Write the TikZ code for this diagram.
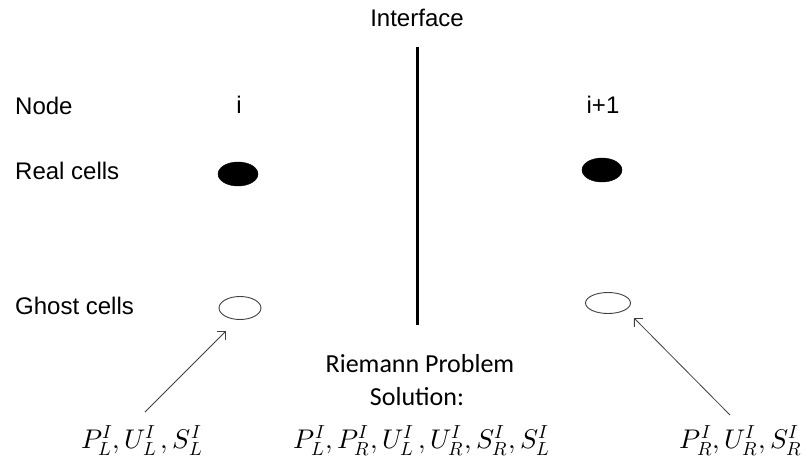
\documentclass[tikz,border=0pt]{standalone}
\usepackage{fontspec}
\usepackage{unicode-math}
\setmainfont{Liberation Sans}
\setmathfont{Latin Modern Math}
\newfontfamily\calibrifont{Carlito}
\usetikzlibrary{arrows.meta,shapes.geometric}

\begin{document}
\begin{tikzpicture}[x=1pt,y=-1pt,
  lbl/.style={inner sep=0pt,font=\fontsize{24}{28}\selectfont},
  rowlbl/.style={lbl,anchor=west},
  realcell/.style={ellipse,fill=black,draw=black,minimum width=40pt,minimum height=24pt,inner sep=0pt},
  ghostcell/.style={ellipse,fill=white,draw=black!75,line width=0.9pt,minimum width=42pt,minimum height=23pt,inner sep=0pt},
  mathlbl/.style={inner sep=0pt,anchor=base,font=\fontsize{27}{32}\selectfont},
  solnlbl/.style={inner sep=0pt,anchor=base,font=\calibrifont\fontsize{26}{30}\selectfont},
  feed/.style={draw=black!75,line width=0.8pt,-{Straight Barb[length=6pt,width=12pt]}}]
\useasboundingbox[fill=white] (0,0) rectangle (804,466);

% interface between the two cells
\node[lbl] (iface) at (417,18) {Interface};
\coordinate (itop) at (417,47);
\coordinate (ibot) at (417,325);
\draw[line width=3pt] (itop) -- (ibot);

% row labels
\node[rowlbl] (nodelbl) at (15,105.5) {Node};
\node[rowlbl] (reallbl) at (15,170.5) {Real cells};
\node[rowlbl] (ghostlbl) at (15,306) {Ghost cells};

% node indices
\node[lbl] (ni) at (239,105) {i};
\node[lbl] (nip) at (603,105) {i+1};

% real and ghost cells
\node[realcell] (rl) at (238,174) {};
\node[realcell] (rr) at (602,170) {};
\node[ghostcell] (gl) at (240,308) {};
\node[ghostcell,minimum width=45pt,minimum height=21pt] (gr) at (608,303) {};

% interface states
\node[mathlbl] (stl) at (142,448) {$P_L^I,U_L^I\,,S_L^I$};
\node[mathlbl] (stc) at (422,448) {$P_L^I,P_R^I,U_L^I\,,U_R^I,S_R^I,S_L^I$};
\node[mathlbl] (str) at (741,448) {$P_R^I,U_R^I,S_R^I$};
\node[solnlbl] (rp1) at (420,372) {Riemann Problem};
\node[solnlbl] (rp2) at (417,405) {Solution:};

% states fed to the ghost cells
\coordinate (tl) at (145,412);
\coordinate (tr) at (730,415);
\coordinate (tipl) at ([shift={(-14,23)}]gl.center);
\coordinate (tipr) at ([shift={(26,15)}]gr.center);
\draw[feed] (tl) -- (tipl);
\draw[feed] (tr) -- (tipr);
\end{tikzpicture}
\end{document}
